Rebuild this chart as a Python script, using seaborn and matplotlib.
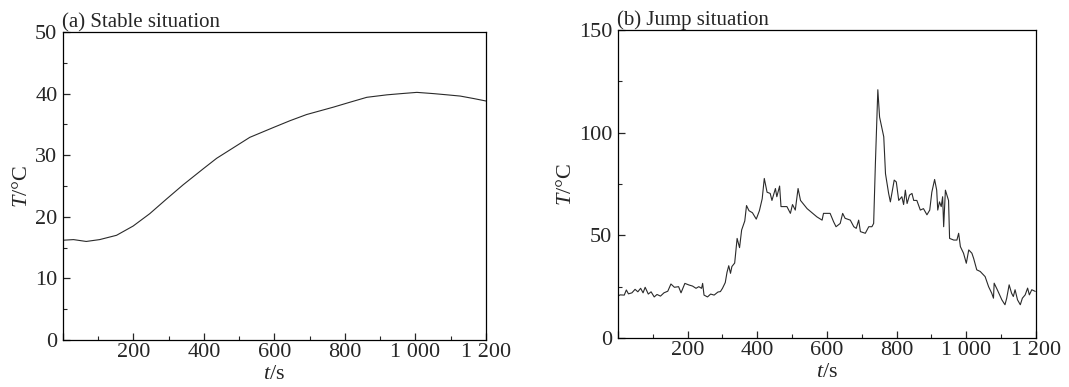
import numpy as np
import pandas as pd
import matplotlib
matplotlib.use("Agg")
import matplotlib.pyplot as plt
from matplotlib.ticker import MultipleLocator, FuncFormatter
import seaborn as sns

# ---- data ----
stable_t = [0, 30, 66, 104, 152, 199, 246, 294, 341, 398, 436, 483, 530, 597, 644,
            691, 767, 814, 862, 919, 960, 1004, 1051, 1090, 1127, 1165, 1200]
stable_T = [16.2, 16.3, 16.0, 16.3, 17.0, 18.5, 20.5, 22.9, 25.2, 27.8, 29.5, 31.2,
            32.9, 34.5, 35.6, 36.6, 37.8, 38.6, 39.4, 39.8, 40.0, 40.2, 40.0, 39.8,
            39.6, 39.2, 38.8]

jump_t = [0, 6, 18, 24, 30, 40, 49, 57, 65, 72, 78, 87, 95, 104, 112, 122, 132, 143,
          152, 162, 174, 181, 192, 204, 214, 224, 232, 240, 243, 247, 257, 266, 276,
          287, 294, 300, 308, 313, 318, 323, 327, 335, 342, 349, 355, 364, 369, 376,
          386, 397, 406, 414, 420, 428, 437, 442, 452, 456, 464, 468, 485, 495, 501,
          509, 517, 524, 543, 557, 571, 586, 590, 609, 619, 626, 638, 645, 652, 667,
          677, 684, 691, 696, 710, 720, 729, 734, 739, 746, 751, 763, 768, 777, 782,
          787, 793, 799, 806, 815, 820, 825, 830, 837, 844, 849, 858, 868, 877, 887,
          895, 901, 909, 915, 918, 923, 928, 932, 935, 940, 949, 952, 964, 973, 978,
          983, 992, 1000, 1007, 1016, 1021, 1030, 1040, 1054, 1064, 1073, 1078, 1080,
          1089, 1102, 1111, 1116, 1123, 1130, 1135, 1140, 1147, 1155, 1161, 1169,
          1176, 1181, 1188, 1198]
jump_T = [20.4, 21.0, 20.9, 23.4, 21.5, 22.0, 23.7, 22.5, 24.2, 22.0, 24.7, 21.4,
          22.5, 20.0, 21.2, 20.4, 22.0, 22.8, 26.3, 24.7, 25.0, 22.0, 26.6, 25.8,
          25.3, 24.2, 25.0, 24.2, 26.6, 20.9, 20.0, 21.4, 20.9, 22.4, 22.6, 24.2,
          27.0, 32.0, 35.2, 31.5, 34.8, 36.5, 48.5, 44.0, 52.6, 57.0, 64.5, 62.0,
          61.0, 57.9, 62.0, 67.8, 77.7, 71.0, 70.4, 67.0, 72.8, 68.8, 74.0, 64.0,
          64.0, 60.7, 65.0, 62.3, 72.8, 67.0, 63.0, 61.0, 59.0, 57.4, 60.7, 60.7,
          56.6, 54.2, 55.8, 60.7, 58.3, 57.4, 54.2, 53.4, 57.4, 51.8, 51.0, 54.2,
          54.2, 55.8, 85.0, 120.9, 107.6, 98.0, 80.0, 70.4, 66.3, 71.0, 76.9, 76.0,
          67.0, 68.8, 65.0, 72.0, 65.5, 69.6, 70.4, 67.0, 67.0, 62.3, 63.0, 60.0,
          62.3, 71.0, 77.2, 72.0, 62.3, 66.3, 64.0, 68.8, 54.2, 72.0, 67.0, 48.5,
          47.7, 47.7, 51.0, 44.5, 41.3, 36.4, 42.9, 41.3, 38.8, 33.2, 32.4, 29.9,
          25.0, 21.8, 19.4, 26.7, 23.5, 18.6, 16.2, 19.4, 25.9, 21.8, 20.2, 23.5,
          18.6, 16.2, 19.4, 21.0, 24.3, 21.0, 23.5, 22.7]

panel_titles = ["(a) Stable situation", "(b) Jump situation"]
x_label = r"$\mathit{t}$/s"
y_label = r"$\mathit{T}$/°C"

# ---- styling ----
sns.set_style("ticks")
plt.rcParams["font.family"] = ["Liberation Serif", "DejaVu Serif"]
plt.rcParams["mathtext.fontset"] = "custom"
plt.rcParams["mathtext.it"] = "Liberation Serif:italic"
plt.rcParams["mathtext.rm"] = "Liberation Serif"

fig = plt.figure(figsize=(10.69, 3.87), dpi=100)
ax1 = fig.add_axes([0.0589, 0.1214, 0.3957, 0.7959])
ax2 = fig.add_axes([0.5781, 0.1266, 0.3910, 0.7959])

df_a = pd.DataFrame({"t": stable_t, "T": stable_T})
df_b = pd.DataFrame({"t": jump_t, "T": jump_T})

sns.lineplot(data=df_a, x="t", y="T", ax=ax1, color="#2a2a2a", lw=0.8)
sns.lineplot(data=df_b, x="t", y="T", ax=ax2, color="#2a2a2a", lw=0.8)

def xfmt(v, pos):
    v = int(round(v))
    if v == 0:
        return ""
    return f"{v:,}".replace(",", " ")

for ax, ymax, ymaj, ymin, title in [(ax1, 50, 10, 5, panel_titles[0]),
                                    (ax2, 150, 50, 25, panel_titles[1])]:
    ax.set_xlim(0, 1200)
    ax.set_ylim(0, ymax)
    ax.xaxis.set_major_locator(MultipleLocator(200))
    ax.xaxis.set_minor_locator(MultipleLocator(100))
    ax.yaxis.set_major_locator(MultipleLocator(ymaj))
    ax.yaxis.set_minor_locator(MultipleLocator(ymin))
    ax.xaxis.set_major_formatter(FuncFormatter(xfmt))
    ax.tick_params(axis="both", which="major", direction="in", length=5,
                   width=0.9, labelsize=16)
    ax.tick_params(axis="x", which="major", pad=2)
    ax.tick_params(axis="y", which="major", pad=4)
    ax.tick_params(axis="both", which="minor", direction="in", length=3, width=0.8)
    for sp in ax.spines.values():
        sp.set_linewidth(0.9)
        sp.set_color("black")
    ax.set_xlabel(x_label, fontsize=16, labelpad=2)
    ax.set_ylabel(y_label, fontsize=16, labelpad=2)
    ax.set_title(title, loc="left", fontsize=15, pad=3, x=-0.002)

fig.savefig("out.png", dpi=100)
